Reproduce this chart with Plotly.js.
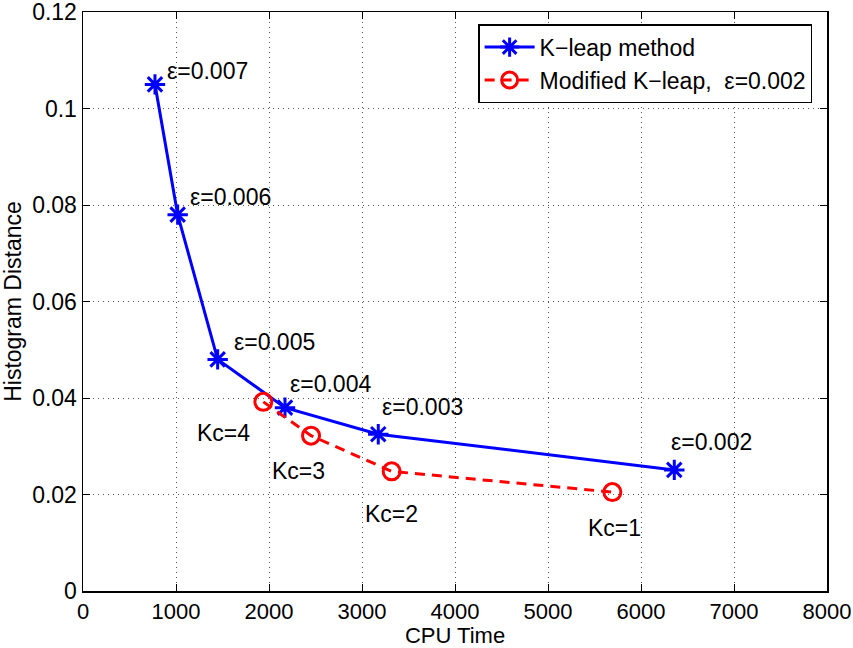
<!DOCTYPE html>
<html>
<head>
<meta charset="utf-8">
<script src="https://cdn.plot.ly/plotly-3.0.1.min.js"></script>
<style>html,body{margin:0;padding:0;background:#fff}#chart{width:853px;height:648px}</style>
</head>
<body>
<div id="chart"></div>
<script>
// K-leap method data
var kleapCpu = [774, 1018, 1448, 2172, 3175, 6358];
var kleapDist = [0.105, 0.078, 0.048, 0.038, 0.0325, 0.0251];
var kleapLabels = ["ε=0.007", "ε=0.006", "ε=0.005", "ε=0.004", "ε=0.003", "ε=0.002"];
var kleapLabelX = [882, 1129, 1602, 2204, 3194, 6301];
var kleapLabelY = [0.1078, 0.0817, 0.0517, 0.0429, 0.0381, 0.0308];

// Modified K-leap data (eps = 0.002)
var modCpu = [1939, 2452, 3319, 5692];
var modDist = [0.0392, 0.0322, 0.0248, 0.0205];
var modLabels = ["Kc=4", "Kc=3", "Kc=2", "Kc=1"];
var modLabelX = [1204, 2011, 3011, 5409];
var modLabelY = [0.0328, 0.0248, 0.0159, 0.0130];

var xTicks = [0, 1000, 2000, 3000, 4000, 5000, 6000, 7000, 8000];
var yTicks = [0, 0.02, 0.04, 0.06, 0.08, 0.1, 0.12];
var yTickText = ["0", "0.02", "0.04", "0.06", "0.08", "0.1", "0.12"];

var FONT = "Liberation Sans, Arial, Helvetica, sans-serif";
var FS = 23;

var traces = [
  {
    x: kleapCpu, y: kleapDist, type: "scatter", mode: "lines+markers",
    name: "K\u2212leap method",
    line: {color: "#0000ff", width: 3},
    marker: {symbol: "asterisk-open", size: 17, color: "#0000ff", line: {color: "#0000ff", width: 3}}
  },
  {
    x: modCpu, y: modDist, type: "scatter", mode: "lines+markers",
    name: "Modified K\u2212leap,  ε=0.002",
    line: {color: "#ff0000", width: 3, dash: "10px,7px"},
    marker: {symbol: "circle-open", size: 17, color: "#ff0000", line: {color: "#ff0000", width: 3}}
  }
];

var annotations = [];
for (var i = 0; i < kleapLabels.length; i++) {
  annotations.push({x: kleapLabelX[i], y: kleapLabelY[i], xref: "x", yref: "y", text: kleapLabels[i],
    showarrow: false, xanchor: "left", yanchor: "middle", font: {family: FONT, size: FS, color: "#000"}});
}
for (var j = 0; j < modLabels.length; j++) {
  annotations.push({x: modLabelX[j], y: modLabelY[j], xref: "x", yref: "y", text: modLabels[j],
    showarrow: false, xanchor: "left", yanchor: "middle", font: {family: FONT, size: FS, color: "#000"}});
}

var axisCommon = {
  showline: true, linecolor: "#000", linewidth: 1.5, mirror: "ticks",
  ticks: "inside", ticklen: 7, tickwidth: 1, tickcolor: "#000",
  showgrid: true, gridcolor: "#555", griddash: "1px,4px", gridwidth: 1,
  zeroline: false, ticklabeloverflow: "allow",
  tickfont: {family: FONT, size: FS, color: "#000"}
};

var layout = {
  width: 853, height: 648,
  margin: {l: 83, r: 26, t: 12, b: 57},
  paper_bgcolor: "#fff", plot_bgcolor: "#fff",
  font: {family: FONT, size: FS, color: "#000"},
  showlegend: true,
  legend: {
    x: 0.98, y: 0.979, xanchor: "right", yanchor: "top",
    bgcolor: "#fff", bordercolor: "#000", borderwidth: 1.5,
    font: {family: FONT, size: FS, color: "#000"},
    itemwidth: 50, tracegroupgap: 0
  },
  xaxis: Object.assign({}, axisCommon, {
    range: [0, 8000], tickvals: xTicks, ticktext: xTicks.map(String),
    tickfont: {family: FONT, size: 22, color: "#000"},
    title: {text: "CPU Time", font: {family: FONT, size: 22, color: "#000"}, standoff: 0}
  }),
  yaxis: Object.assign({}, axisCommon, {
    range: [0, 0.1200001], tickvals: yTicks, ticktext: yTickText,
    title: {text: "Histogram Distance", font: {family: FONT, size: FS, color: "#000"}, standoff: 6}
  }),
  annotations: annotations
};

Plotly.newPlot("chart", traces, layout, {displayModeBar: false, staticPlot: true});
</script>
</body>
</html>
